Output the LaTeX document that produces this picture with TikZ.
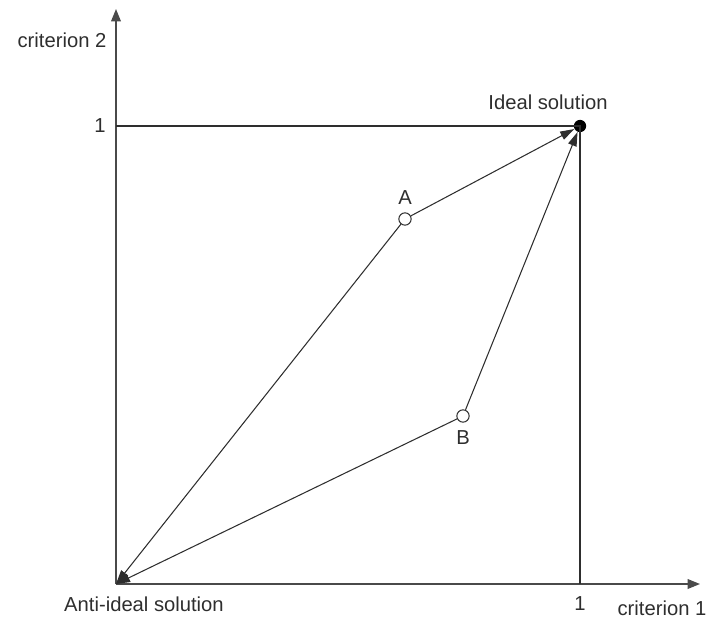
\documentclass[tikz,border=0pt]{standalone}
\usepackage{fontspec}
\setmainfont{Liberation Sans}
\usetikzlibrary{arrows.meta, positioning}
\definecolor{axisgray}{HTML}{4A4A4A}
\definecolor{inkgray}{HTML}{2E2E2E}

\begin{document}
\begin{tikzpicture}[font=\fontsize{11.5}{13}\selectfont,
  axis/.style={axisgray, line width=0.75pt, -{Triangle[length=7pt,width=5.5pt]}},
  guide/.style={inkgray, line width=0.6pt},
  vec/.style={inkgray, line width=0.6pt, -{Triangle[length=8pt,width=5pt]}},
  altpoint/.style={circle, draw=inkgray, fill=white, line width=0.6pt, inner sep=0pt, minimum size=7pt},
  idealpoint/.style={circle, fill=black, inner sep=0pt, minimum size=7pt},
  lbl/.style={inkgray}]
  \useasboundingbox (-2.32,-0.72) rectangle (11.8,11.68);

  % axes
  \coordinate (O) at (0,0);
  \coordinate (xend) at (11.68,0);
  \coordinate (yend) at (0,11.5);
  \draw[axis] (O) -- (xend);
  \draw[axis] (O) -- (yend);
  \node[lbl] (crit1) at (10.92,-0.48) {criterion 1};
  \node[lbl] (crit2) at (-1.08,10.88) {criterion 2};

  % unit square
  \coordinate (ytick) at (0,9.16);
  \coordinate (xtick) at (9.28,0);
  \node[idealpoint] (ideal) at (9.28,9.16) {};
  \draw[guide] (ytick) -- (ideal.center) -- (xtick);
  \node[lbl] (one2) at (-0.32,9.16) {1};
  \node[lbl] (one1) at (9.28,-0.4) {1};

  % alternatives
  \node[altpoint] (A) at (5.78,7.3) {};
  \node[altpoint] (B) at (6.94,3.36) {};
  \node[lbl, above=1pt of A] (Alabel) {A};
  \node[lbl, below=1pt of B] (Blabel) {B};

  \draw[vec] (A) -- (O);
  \draw[vec] (B) -- (O);
  \draw[vec] (A) -- (ideal);
  \draw[vec] (B) -- (ideal);

  \node[lbl] (idealtext) at (8.64,9.64) {Ideal solution};
  \node[lbl] (antitext) at (0.56,-0.4) {Anti-ideal solution};
\end{tikzpicture}
\end{document}
